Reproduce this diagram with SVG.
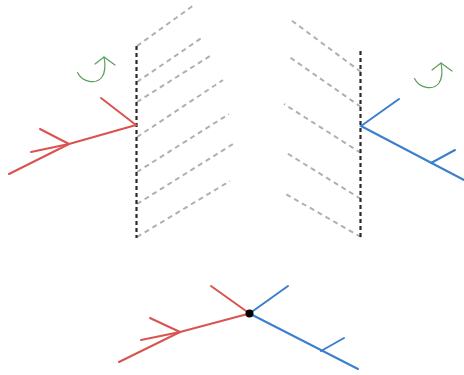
<svg xmlns="http://www.w3.org/2000/svg" width="464" height="375" viewBox="0 0 464 375">
<style>
.mirror{stroke:#2a2a2a;stroke-width:2.2;stroke-dasharray:4 3;fill:none}
.ray{stroke:#b0b0b0;stroke-width:2;stroke-dasharray:5 4;fill:none}
.red{stroke:#d9534f;stroke-width:2;fill:none;stroke-linecap:round}
.blue{stroke:#3b7fcc;stroke-width:2;fill:none;stroke-linecap:round}
.rot{stroke:#5a9e5a;stroke-width:1.2;fill:none;stroke-linecap:round}
</style>
<rect width="464" height="375" fill="#ffffff"/>
<g id="connectors">
<g id="left-rays">
<line class="ray" x1="137" y1="46" x2="194" y2="5"/>
<line class="ray" x1="137" y1="82" x2="203" y2="37"/>
<line class="ray" x1="137" y1="102" x2="210" y2="56"/>
<line class="ray" x1="137" y1="137" x2="223" y2="80"/>
<line class="ray" x1="137" y1="172" x2="229" y2="114"/>
<line class="ray" x1="137" y1="204" x2="233" y2="144"/>
<line class="ray" x1="137" y1="237" x2="230" y2="181"/>
</g>
<g id="right-rays">
<line class="ray" x1="361" y1="72" x2="291" y2="20"/>
<line class="ray" x1="361" y1="107" x2="288" y2="56"/>
<line class="ray" x1="361" y1="153" x2="284" y2="104"/>
<line class="ray" x1="361" y1="199" x2="285" y2="152"/>
<line class="ray" x1="361" y1="237" x2="284" y2="193"/>
</g>
</g>
<g id="left-mirror">
<line class="mirror" x1="136.5" y1="46" x2="136.5" y2="238"/>
</g>
<g id="right-mirror">
<line class="mirror" x1="360.5" y1="51" x2="360.5" y2="238"/>
</g>
<g id="left-tree">
<polyline class="red" points="101,98 136,125 69,144"/>
<line class="red" x1="69" y1="144" x2="40" y2="129"/>
<line class="red" x1="69" y1="144" x2="31" y2="152"/>
<line class="red" x1="69" y1="144" x2="9" y2="174"/>
</g>
<g id="right-tree">
<polyline class="blue" points="399,99 361,126 464,180"/>
<line class="blue" x1="431" y1="163" x2="455" y2="150"/>
</g>
<g id="left-rotation">
<path class="rot" d="M77.5,72.5 C82,82 96,85 102,77 C106,71 105,62 104,57"/>
<polyline class="rot" points="95,64 104,57 115,65"/>
</g>
<g id="right-rotation">
<path class="rot" d="M414.5,78.5 C419,88 433,91 439,83 C443,77 442,68 441,63"/>
<polyline class="rot" points="432,70 441,63 452,71"/>
</g>
<g id="joined-tree">
<line class="red" x1="211" y1="286" x2="249.5" y2="313.5"/>
<line class="red" x1="249.5" y1="313.5" x2="180" y2="332"/>
<line class="red" x1="180" y1="332" x2="150" y2="318"/>
<line class="red" x1="180" y1="332" x2="141" y2="340"/>
<line class="red" x1="180" y1="332" x2="119" y2="362"/>
<line class="blue" x1="249.5" y1="313.5" x2="288" y2="286"/>
<line class="blue" x1="249.5" y1="313.5" x2="358" y2="369"/>
<line class="blue" x1="321" y1="351" x2="344" y2="338"/>
<circle cx="249.5" cy="313.5" r="4" fill="#000000"/>
</g>
</svg>
